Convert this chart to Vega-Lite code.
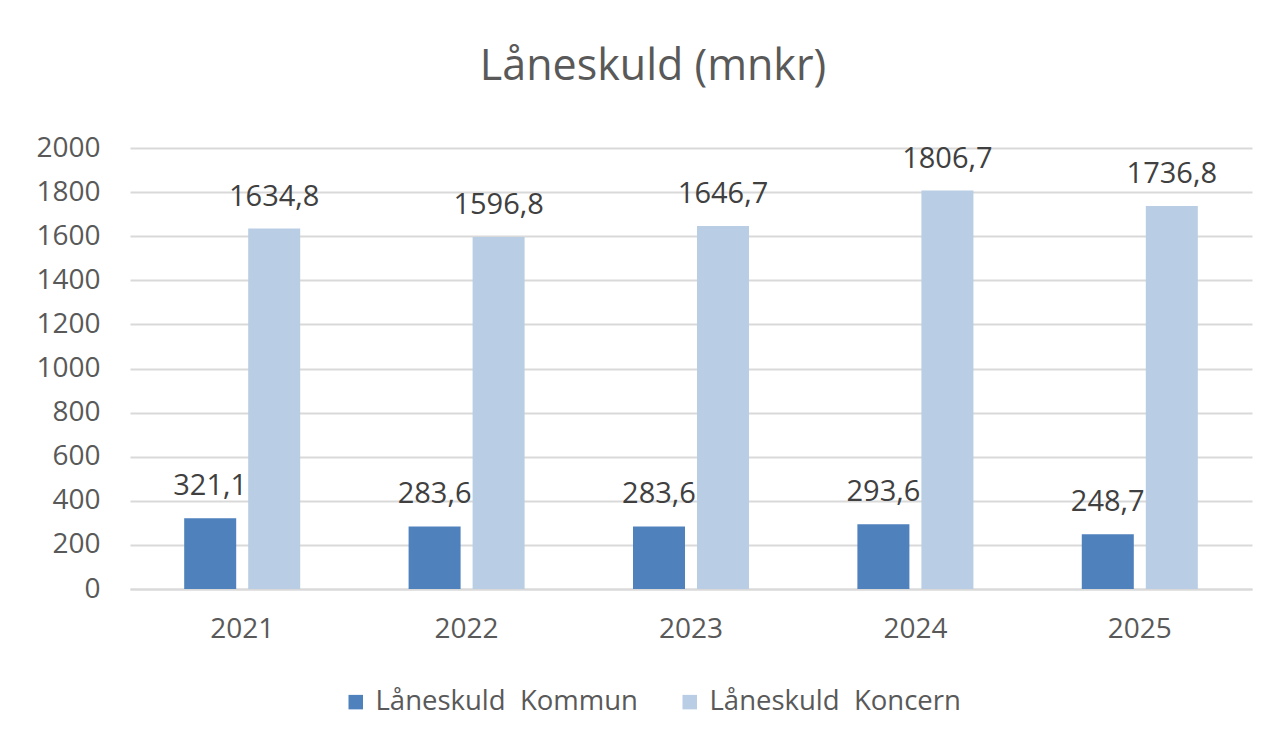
{
  "$schema": "https://vega.github.io/schema/vega-lite/v6.json",
  "autosize": {"type": "none"},
  "width": 1122,
  "height": 441,
  "padding": {"left": 130, "top": 148, "right": 30, "bottom": 158},
  "background": "white",
  "config": {
    "font": "Open Sans",
    "view": {"stroke": null},
    "locale": {"number": {"decimal": ",", "thousands": "", "grouping": [3], "currency": ["", " kr"]}}
  },
  "title": {
    "text": "Låneskuld (mnkr)",
    "fontSize": 43,
    "font": "Open Sans",
    "fontWeight": "normal",
    "color": "#595959",
    "anchor": "middle",
    "dx": -38,
    "offset": 45
  },
  "data": {
    "values": [
      {"year": "2021", "series": "Låneskuld\u00a0 Kommun", "value": 321.1},
      {"year": "2021", "series": "Låneskuld\u00a0 Koncern", "value": 1634.8},
      {"year": "2022", "series": "Låneskuld\u00a0 Kommun", "value": 283.6},
      {"year": "2022", "series": "Låneskuld\u00a0 Koncern", "value": 1596.8},
      {"year": "2023", "series": "Låneskuld\u00a0 Kommun", "value": 283.6},
      {"year": "2023", "series": "Låneskuld\u00a0 Koncern", "value": 1646.7},
      {"year": "2024", "series": "Låneskuld\u00a0 Kommun", "value": 293.6},
      {"year": "2024", "series": "Låneskuld\u00a0 Koncern", "value": 1806.7},
      {"year": "2025", "series": "Låneskuld\u00a0 Kommun", "value": 248.7},
      {"year": "2025", "series": "Låneskuld\u00a0 Koncern", "value": 1736.8}
    ]
  },
  "encoding": {
    "x": {
      "field": "year",
      "type": "nominal",
      "scale": {"paddingInner": 0.483, "paddingOuter": 0.2415},
      "axis": {
        "title": null,
        "labelAngle": 0,
        "labelFontSize": 28,
        "labelColor": "#595959",
        "labelPadding": 26,
        "ticks": false,
        "domainColor": "#d9d9d9",
        "domainWidth": 2,
        "grid": false
      }
    },
    "xOffset": {
      "field": "series",
      "type": "nominal",
      "scale": {"paddingInner": 0.1875, "paddingOuter": 0}
    },
    "y": {
      "field": "value",
      "type": "quantitative",
      "scale": {"domain": [0, 2000], "nice": false},
      "axis": {
        "title": null,
        "values": [0, 200, 400, 600, 800, 1000, 1200, 1400, 1600, 1800, 2000],
        "format": "d",
        "labelFontSize": 28,
        "labelColor": "#595959",
        "labelPadding": 30,
        "ticks": false,
        "domain": false,
        "gridColor": "#d9d9d9",
        "gridWidth": 2
      }
    }
  },
  "layer": [
    {
      "mark": {"type": "bar"},
      "encoding": {
        "color": {
          "field": "series",
          "type": "nominal",
          "scale": {"range": ["#4f81bd", "#b9cde5"]},
          "legend": {
            "title": null,
            "orient": "none",
            "direction": "horizontal",
            "legendX": 212,
            "legendY": 540,
            "symbolType": "square",
            "symbolSize": 210,
            "symbolStrokeWidth": 0,
            "labelFontSize": 27.5,
            "labelLimit": 500,
            "labelColor": "#595959",
            "labelOffset": 6,
            "columnPadding": 38,
            "symbolOffset": 0
          }
        }
      }
    },
    {
      "mark": {"type": "text", "baseline": "alphabetic", "dy": -23, "fontSize": 29, "color": "#404040"},
      "encoding": {
        "text": {"field": "value", "type": "quantitative", "format": ".1f"}
      }
    }
  ]
}
